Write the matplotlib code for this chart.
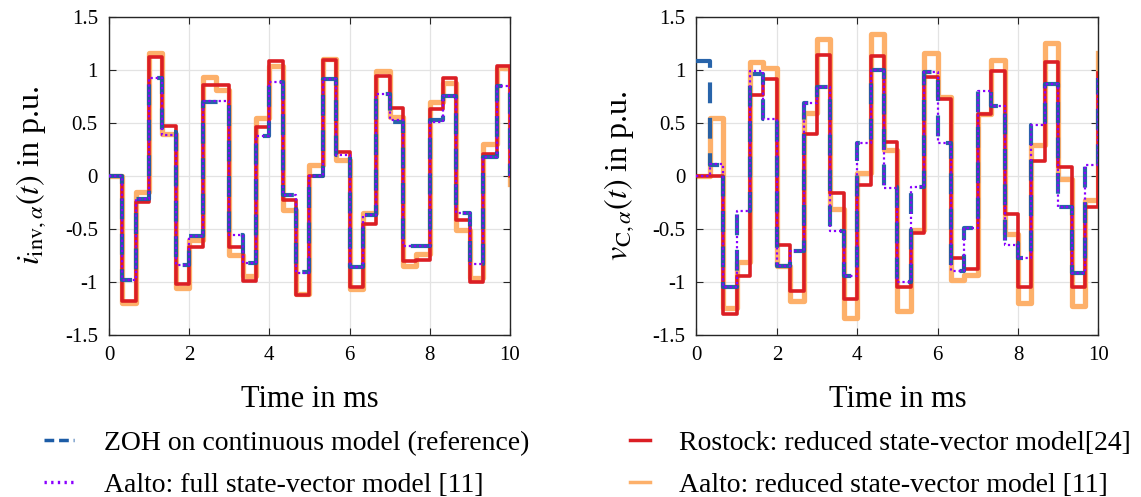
import numpy as np
import matplotlib
matplotlib.use("Agg")
import matplotlib.pyplot as plt
from matplotlib.lines import Line2D

# =========================
# DATA (p.u., one value per sample, Ts = 1/3 ms)
# =========================

t_ms = np.arange(31) / 3

# inverter current, alpha component
i_zoh = [0, -0.985, -0.215, 0.924, 0.41, -0.84, -0.57, 0.70, 0.70, -0.557,
         -0.82, 0.377, 0.89, -0.18, -0.91, 0.0, 0.91, 0.196, -0.86, -0.37,
         0.77, 0.51, -0.66, -0.66, 0.53, 0.75, -0.35, -0.83, 0.175, 0.845, 0.0]
i_rostock = [0, -1.18, -0.25, 1.12, 0.47, -1.02, -0.67, 0.86, 0.86, -0.67,
             -0.99, 0.465, 1.08, -0.23, -1.12, 0.0, 1.09, 0.23, -1.05, -0.45,
             0.94, 0.64, -0.80, -0.79, 0.63, 0.92, -0.42, -1.0, 0.21, 1.04, 0.0]
i_aalto_full = [0, -0.985, -0.215, 0.924, 0.39, -0.84, -0.57, 0.71, 0.71, -0.557,
                -0.82, 0.377, 0.89, -0.18, -0.92, 0.0, 0.91, 0.196, -0.86, -0.37,
                0.77, 0.53, -0.66, -0.66, 0.51, 0.75, -0.35, -0.83, 0.18, 0.845, 0.0]
i_aalto_red = [0, -1.2, -0.15, 1.16, 0.40, -1.06, -0.60, 0.93, 0.81, -0.75,
               -0.94, 0.55, 1.035, -0.32, -1.11, 0.10, 1.10, 0.155, -1.07, -0.35,
               0.99, 0.56, -0.85, -0.74, 0.70, 0.88, -0.51, -0.965, 0.30, 1.02, -0.08]

# capacitor voltage, alpha component
v_zoh = [1.08, 0.10, -1.05, -0.33, 0.965, 0.54, -0.85, -0.71, 0.69, 0.84,
         -0.52, -0.94, 0.31, 1.0, -0.105, -1.0, -0.10, 0.98, 0.31, -0.90,
         -0.49, 0.80, 0.655, -0.63, -0.775, 0.48, 0.87, -0.29, -0.92, 0.10, 0.92]
v_rostock = [0, 0, -1.30, -0.94, 0.76, 0.91, -0.65, -1.085, 0.40, 1.145,
             -0.16, -1.16, -0.09, 1.135, 0.32, -1.05, -0.54, 0.93, 0.73, -0.77,
             -0.88, 0.58, 0.99, -0.36, -1.05, 0.14, 1.075, 0.085, -1.05, -0.29, 0.97]
v_aalto_full = [0, 0.117, -1.05, -0.33, 0.99, 0.54, -0.85, -0.71, 0.69, 0.84,
                -0.52, -0.94, 0.31, 1.0, -0.11, -1.0, -0.104, 0.98, 0.31, -0.90,
                -0.49, 0.80, 0.655, -0.65, -0.775, 0.48, 0.87, -0.29, -0.92, 0.10, 0.92]
v_aalto_red = [0, 0.55, -1.25, -0.81, 1.07, 1.02, -0.85, -1.18, 0.59, 1.29,
               -0.31, -1.34, 0.03, 1.335, 0.245, -1.275, -0.51, 1.16, 0.74, -0.98,
               -0.93, 0.58, 1.09, -0.55, -1.2, 0.29, 1.25, -0.025, -1.23, -0.23, 1.16]

labels_left = ["ZOH on continuous model (reference)",
               "Aalto: full state-vector model [11]"]
labels_right = ["Rostock: reduced state-vector model[24]",
                "Aalto: reduced state-vector model [11]"]

# =========================
# STYLE
# =========================

c_blue = "#1c5ca6"
c_purple = "#8a00ff"
c_red = "#db1e24"
c_orange = "#fdb06a"

plt.rcParams["font.family"] = ["Liberation Serif", "DejaVu Serif"]
plt.rcParams["mathtext.fontset"] = "stix"

fig = plt.figure(figsize=(11.41, 4.97), dpi=100)
ax1 = fig.add_axes([0.0955, 0.326, 0.3514, 0.64])
ax2 = fig.add_axes([0.6104, 0.326, 0.3523, 0.64])


def draw(ax, zoh, rostock, full, reduced, ylabel):
    ax.plot(t_ms, reduced, drawstyle="steps-post", color=c_orange, lw=3.8, zorder=2)
    ax.plot(t_ms, rostock, drawstyle="steps-post", color=c_red, lw=2.6, zorder=3)
    ax.plot(t_ms, zoh, drawstyle="steps-post", color=c_blue, lw=3.0,
            linestyle=(0, (5, 3.5)), alpha=0.95, zorder=4)
    ax.plot(t_ms, full, drawstyle="steps-post", color=c_purple, lw=1.6,
            linestyle=(0, (1, 1.3)), zorder=5)

    ax.set_xlim(0, 10)
    ax.set_ylim(-1.5, 1.5)
    ax.set_xticks([0, 2, 4, 6, 8, 10])
    ax.set_yticks([-1.5, -1, -0.5, 0, 0.5, 1, 1.5])
    ax.set_yticklabels(["-1.5", "-1", "-0.5", "0", "0.5", "1", "1.5"])
    ax.grid(True, color="#e3e3e3", lw=0.9)
    ax.set_axisbelow(True)
    ax.tick_params(direction="in", top=True, right=True, length=5,
                   labelsize=15, pad=8, color="#262626")
    for sp in ax.spines.values():
        sp.set_color("#262626")
        sp.set_linewidth(1.0)
    ax.set_xlabel("Time in ms", fontsize=22, labelpad=14)
    ax.set_ylabel(ylabel, fontsize=23, labelpad=12)


draw(ax1, i_zoh, i_rostock, i_aalto_full, i_aalto_red,
     r"$i_{\mathrm{inv},\alpha}(t)$ in p.u.")
draw(ax2, v_zoh, v_rostock, v_aalto_full, v_aalto_red,
     r"$v_{\mathrm{C},\alpha}(t)$ in p.u.")

# =========================
# LEGEND (two columns placed separately)
# =========================

h_left = [
    Line2D([], [], color=c_blue, lw=2.5, linestyle=(0, (2.8, 1.4))),
    Line2D([], [], color=c_purple, lw=2.4, linestyle=(0, (0.7, 1.3))),
]
h_right = [
    Line2D([], [], color=c_red, lw=2.5),
    Line2D([], [], color=c_orange, lw=2.5),
]

fig.legend(h_left, labels_left, loc="lower left",
           bbox_to_anchor=(0.0167, -0.052), frameon=False, fontsize=20,
           handlelength=1.08, handletextpad=1.08, labelspacing=0.6)
fig.legend(h_right, labels_right, loc="lower left",
           bbox_to_anchor=(0.530, -0.052), frameon=False, fontsize=20,
           handlelength=0.72, handletextpad=1.04, labelspacing=0.6)

fig.savefig("out.png", dpi=100)
